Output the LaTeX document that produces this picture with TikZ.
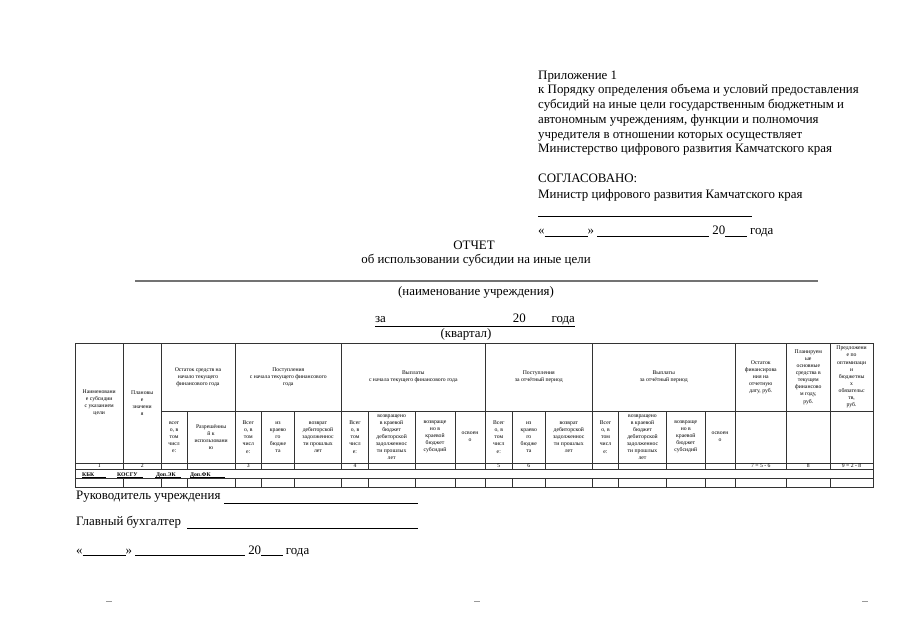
\documentclass[tikz,border=0pt]{standalone}
\usepackage{fontspec}
\setmainfont{Liberation Serif}
\usetikzlibrary{positioning}
\newcommand{\lineblank}[1]{\rule[-1.8pt]{#1}{0.45pt}}

\begin{document}
\begin{tikzpicture}[x=0.93pt,y=-0.93pt,
    every node/.style={align=center,inner sep=0pt},
    txt/.style={font=\fontsize{12}{13.7}\selectfont},
    cell/.style={font=\fontsize{5.3}{6.6}\selectfont},
    kbk/.style={font=\fontsize{5.3}{6.6}\selectfont\bfseries,anchor=base west},
    grid/.style={line width=0.5pt,draw=black!80},
    sign/.style={line width=0.45pt}]
\useasboundingbox[fill=white] (0,0) rectangle (905,640);

% appendix header
\node[txt,align=left,anchor=north west] (appx) at (538,70.5) {Приложение 1\\
к Порядку определения объема и условий предоставления\\
субсидий на иные цели государственным бюджетным и\\
автономным учреждениям, функции и полномочия\\
учредителя в отношении которых осуществляет\\
Министерство цифрового развития Камчатского края};
\node[txt,anchor=west] (agreed) at (538,178.3) {СОГЛАСОВАНО:};
\node[txt,anchor=west] (minister) at (538,195) {Министр цифрового развития Камчатского края};
\draw[sign] (538,216.7) -- (752,216.7);
\node[txt,anchor=west] (date1) at (538,231.7) {«\lineblank{40pt}»\ \lineblank{104pt} 20\lineblank{20pt} года};

% title
\node[txt] (title) at (474,245) {ОТЧЕТ};
\node[txt] (subtitle) at (476,260) {об использовании субсидии на иные цели};
\draw[line width=1.6pt,draw=black!55] (135,281) -- (818,281);
\node[txt] (inst) at (476,292.5) {(наименование учреждения)};
\node[txt] (period) at (475,320.5) {\underline{за\hspace{118pt}20\hspace{24pt}года}};
\node[txt] (quarter) at (466,334.5) {(квартал)};

% table grid
\draw[grid] (75,343) rectangle (873.3,487);
\draw[grid] (161,411) -- (873.3,411);
\foreach \y in {463,469,478}
    \draw[grid] (75,\y) -- (873.3,\y);
\foreach \x in {123.3,161,235,341.7,485,592.7,735,786.7,830}
    \draw[grid] (\x,343) -- (\x,469) (\x,478) -- (\x,487);
\foreach \x in {187.3,261.7,294.3,368.3,415,455,512.7,545,618.3,666.7,705}
    \draw[grid] (\x,411) -- (\x,469) (\x,478) -- (\x,487);

% header cells
\node[cell] (name) at (99.2,403) {Наименовани\\е субсидии\\с указанием\\цели};
\node[cell] (plan) at (142.2,403) {Плановы\\е\\значени\\я};
\node[cell] (rest) at (198,377) {Остаток средств на\\начало текущего\\финансового года};
\node[cell] (inc) at (288.3,377) {Поступления\\с начала текущего финансового\\года};
\node[cell] (pay) at (413.3,377) {Выплаты\\с начала текущего финансового года};
\node[cell] (incp) at (538.8,377) {Поступления\\за отчётный период};
\node[cell] (payp) at (663.8,377) {Выплаты\\за отчётный период};
\node[cell] (bal) at (760.8,377) {Остаток\\финансирова\\ния на\\отчетную\\дату, руб.};
\node[cell] (fixed) at (808.3,377) {Планируем\\ые\\основные\\средства в\\текущем\\финансово\\м году,\\руб.};
\node[cell] (opt) at (851.6,377) {Предложени\\е по\\оптимизаци\\и\\бюджетны\\х\\обязательс\\тв,\\руб.};

% sub cells
\node[cell] (rest1) at (174.1,437) {всег\\о, в\\том\\числ\\е:};
\node[cell] (rest2) at (211.1,437) {Разрешённы\\й к\\использовани\\ю};
\node[cell] (inc1) at (248.3,437) {Всег\\о, в\\том\\числ\\е:};
\node[cell] (inc2) at (278,437) {из\\краево\\го\\бюдже\\та};
\node[cell] (inc3) at (318,437) {возврат\\дебиторской\\задолженнос\\ти прошлых\\лет};
\node[cell] (pay1) at (355,437) {Всег\\о, в\\том\\числ\\е:};
\node[cell] (pay2) at (391.6,437) {возвращено\\в краевой\\бюджет\\дебиторской\\задолженнос\\ти прошлых\\лет};
\node[cell] (pay3) at (435,437) {возвраще\\но в\\краевой\\бюджет\\субсидий};
\node[cell] (pay4) at (470,437) {освоен\\о};
\node[cell] (incp1) at (498.8,437) {Всег\\о, в\\том\\числ\\е:};
\node[cell] (incp2) at (528.8,437) {из\\краево\\го\\бюдже\\та};
\node[cell] (incp3) at (568.8,437) {возврат\\дебиторской\\задолженнос\\ти прошлых\\лет};
\node[cell] (payp1) at (605.5,437) {Всег\\о, в\\том\\числ\\е:};
\node[cell] (payp2) at (642.5,437) {возвращено\\в краевой\\бюджет\\дебиторской\\задолженнос\\ти прошлых\\лет};
\node[cell] (payp3) at (685.8,437) {возвраще\\но в\\краевой\\бюджет\\субсидий};
\node[cell] (payp4) at (720,437) {освоен\\о};

% number row
\foreach \x/\n in {99.2/1,142.2/2,248.3/3,355/4,498.8/5,528.8/6,760.8/{7 = 5 - 6},808.3/8,851.6/{9 = 2 - 8}}
    \node[cell] (n\n) at (\x,466) {\n};

% codes row
\node[kbk] (kbc) at (82,476) {КБК};
\node[kbk] (kosgu) at (117,476) {КОСГУ};
\node[kbk] (dopek) at (156,476) {Доп.ЭК};
\node[kbk] (dopfk) at (190,476) {Доп.ФК};
\foreach \a/\b in {82/106,117/143,155/181,190/225}
    \draw[line width=0.4pt] (\a,477.2) -- (\b,477.2);

% signatures
\node[txt,anchor=west] (head) at (76,497) {Руководитель учреждения};
\draw[sign] (224,503) -- (418,503);
\node[txt,anchor=west] (acc) at (76,522) {Главный бухгалтер};
\draw[sign] (187,528) -- (418,528);
\node[txt,anchor=west] (date2) at (76,551) {«\lineblank{40pt}»\ \lineblank{102pt} 20\lineblank{20pt} года};

% page marks
\foreach \x in {106,474,862}
    \draw[black!40,line width=0.6pt] (\x,601) -- ++(6,0);
\end{tikzpicture}
\end{document}
